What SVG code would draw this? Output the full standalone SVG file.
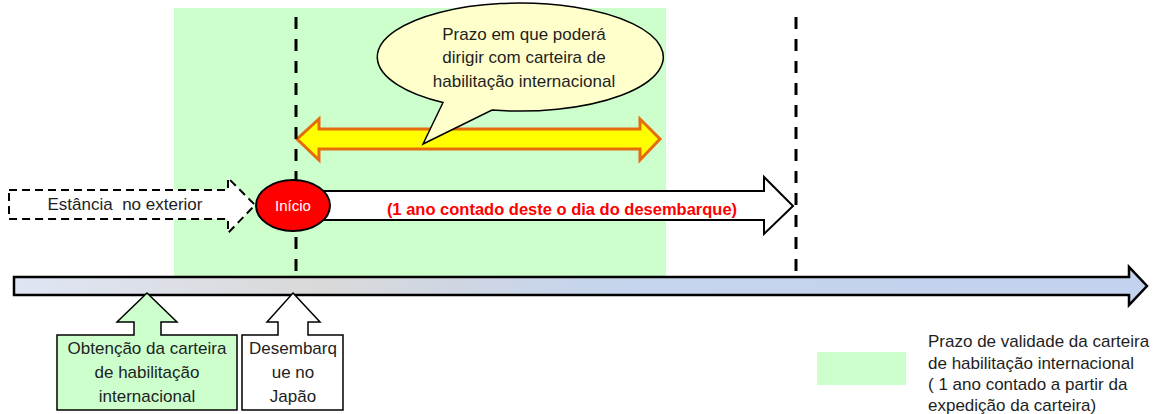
<svg xmlns="http://www.w3.org/2000/svg" width="1153" height="414" viewBox="0 0 1153 414">
<style>
text{font-family:"Liberation Sans",Arial,sans-serif;font-size:17px;fill:#1e1e1e}
.c{text-anchor:middle}
.dash{stroke:#000;stroke-width:3;stroke-dasharray:12 10;fill:none}
.box{stroke:#000;stroke-width:1.5}
</style>
<defs>
<linearGradient id="tl" x1="14" y1="0" x2="1148" y2="0" gradientUnits="userSpaceOnUse">
<stop offset="0" stop-color="#dfe5f4"/>
<stop offset="0.27" stop-color="#d9d9d9"/>
<stop offset="0.5" stop-color="#c6d4ec"/>
<stop offset="1" stop-color="#c3d2ee"/>
</linearGradient>
</defs>
<rect id="validity-area" x="174" y="8" width="492" height="268" fill="#ccffcc"/>
<g id="period-arrow">
<polygon points="297,139 319,119 319,129 640,129 640,119 660,139 640,160 640,149 319,149 319,160" fill="#ffff00" stroke="#e46c0a" stroke-width="3" stroke-linejoin="miter"/>
</g>
<g id="bubble">
<path d="M443,102.5 L423,144 L492,110 A143,54 0 1 0 443,102.5 Z" fill="#ffffcc" stroke="#000" stroke-width="1.5"/>
<text class="c" x="524" y="40">Prazo em que poderá</text>
<text class="c" x="524" y="63">dirigir com carteira de</text>
<text class="c" x="524" y="87">habilitação internacional</text>
</g>
<g id="abroad">
<polygon points="9,190 228,190 228,178 255,205 228,233 228,219 9,219" fill="#fff" stroke="#000" stroke-width="2" stroke-dasharray="8 5"/>
<text class="c" x="125" y="210" xml:space="preserve">Estância  no exterior</text>
</g>
<g id="one-year">
<polygon points="310,191 764,191 764,177 793,206 764,234 764,220 310,220" fill="#fff" stroke="#000" stroke-width="2"/>
<text class="c" x="562" y="215" style="fill:#ff0000;font-weight:bold;font-size:16.5px">(1 ano contado deste o dia do desembarque)</text>
</g>
<g id="connectors">
<line class="dash" x1="296" y1="17" x2="296" y2="276"/>
<line class="dash" x1="796" y1="17" x2="796" y2="276"/>
</g>
<g id="inicio">
<ellipse cx="293" cy="205.5" rx="37" ry="25.5" fill="#ff0000" stroke="#000" stroke-width="2"/>
<text class="c" x="293" y="211" style="fill:#fff;font-size:15px">Início</text>
</g>
<g id="timeline">
<polygon points="14,277 1129,277 1129,267 1147,286 1129,305 1129,295 14,295" fill="url(#tl)" stroke="#000" stroke-width="2.5"/>
</g>
<g id="obtencao">
<polygon class="box" points="147,293 177,322 161,322 161,335 237,335 237,410 57,410 57,335 134,335 134,322 117,322" fill="#ccffcc"/>
<text class="c" x="147" y="354">Obtenção da carteira</text>
<text class="c" x="147" y="378">de habilitação</text>
<text class="c" x="147" y="402">internacional</text>
</g>
<g id="desembarque">
<polygon class="box" points="293,293 320,322 308,322 308,335 343,335 343,410 242,410 242,335 278,335 278,322 267,322" fill="#fff"/>
<text class="c" x="293" y="354">Desembarq</text>
<text class="c" x="293" y="378">ue no</text>
<text class="c" x="293" y="402">Japão</text>
</g>
<g id="legend">
<rect x="817" y="352" width="89" height="33" fill="#ccffcc"/>
<text x="928" y="347">Prazo de validade da carteira</text>
<text x="928" y="369">de habilitação internacional</text>
<text x="928" y="390">( 1 ano contado a partir da</text>
<text x="928" y="411">expedição da carteira)</text>
</g>
</svg>
